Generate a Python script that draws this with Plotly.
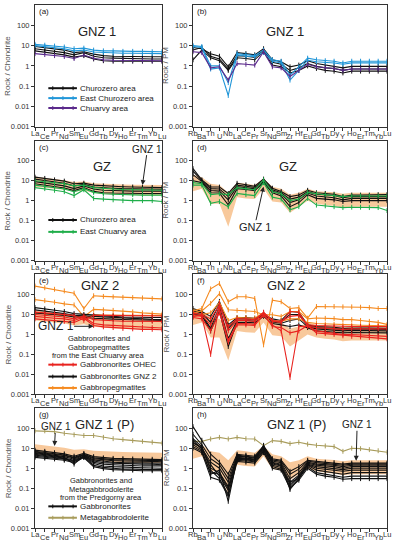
import numpy as np
import plotly.graph_objects as go

FONT = "Liberation Sans, Arial, sans-serif"

# ---------------- categories ----------------
REE = ["La", "Ce", "Pr", "Nd", "Sm", "Eu", "Gd", "Tb", "Dy", "Ho", "Er", "Tm", "Yb", "Lu"]
PM = ["Rb", "Ba", "Th", "U", "Nb", "La", "Ce", "Pr", "Sr", "Nd", "Sm", "Zr", "Hf",
      "Eu", "Gd", "Tb", "Dy", "Y", "Ho", "Er", "Tm", "Yb", "Lu"]
Y_TICKS = [0.001, 0.01, 0.1, 1, 10, 100]
Y_TICKTEXT = ["0.001", "0.01", "0.1", "1", "10", "100"]

# ---------------- GNZ 1 field (shaded band) ----------------
band_ree_upper = [16, 14, 12, 10.5, 8.5, 9, 7.5, 7, 6.8, 6.5, 6.3, 6.2, 6.0, 6.0]
band_ree_lower = [5, 4.5, 4, 3.5, 2.8, 3.2, 2.4, 2.1, 2.0, 1.9, 1.9, 1.8, 1.8, 1.8]
band_pm_upper = [20, 15, 7, 6, 2.5, 8, 7, 6, 13, 5, 4, 2, 2.5, 4, 3, 2.8, 2.6, 2.2, 2.5, 2.5, 2.5, 2.5, 2.5]
band_pm_lower = [3, 4, 0.7, 0.7, 0.05, 1.5, 1.3, 1.2, 4, 0.9, 0.8, 0.25, 0.5, 1.0, 0.7, 0.6, 0.55, 0.45, 0.5, 0.5, 0.5, 0.5, 0.5]

# ---------------- (a) GNZ 1, REE ----------------
a_churozero = [
    [9, 8, 7, 6, 4.5, 5, 3.8, 3.2, 3.0, 2.9, 2.9, 2.9, 2.8, 2.8],
    [7, 6, 5.2, 4.5, 3.5, 4.5, 3, 2.5, 2.4, 2.3, 2.3, 2.3, 2.2, 2.2],
    [5.5, 4.8, 4.2, 3.5, 2.7, 3.2, 2.2, 1.8, 1.7, 1.7, 1.7, 1.7, 1.7, 1.7],
]
a_east_churozero = [
    [11.5, 10.5, 9.5, 8.5, 7, 7.5, 6, 5.5, 5.5, 5.2, 5.2, 5.2, 5.0, 5.0],
    [10, 9, 8, 7, 5.5, 6, 4.8, 4.5, 4.3, 4.2, 4.2, 4.1, 4.0, 4.0],
]
a_chuarvy = [
    [4, 3.6, 3.2, 2.9, 2.3, 3.4, 2.4, 2.0, 1.9, 1.9, 1.9, 1.9, 1.8, 1.8],
]

# ---------------- (b) GNZ 1, PM ----------------
b_churozero = [
    [8, 7, 4.0, 3.0, 0.9, 4.5, 4.0, 3.5, 7.0, 2.0, 1.6, 0.9, 1.1, 1.8, 1.3, 1.1, 1.0, 0.8, 0.95, 0.95, 0.95, 0.95, 0.95],
    [6, 8, 3.0, 2.2, 0.7, 3.2, 3.0, 2.6, 6.0, 1.5, 1.2, 0.6, 0.8, 1.3, 0.95, 0.8, 0.75, 0.6, 0.7, 0.7, 0.7, 0.7, 0.7],
    [2, 6, 2.5, 1.8, 0.6, 2.5, 2.3, 2.0, 5.0, 1.1, 0.9, 0.45, 0.6, 1.0, 0.75, 0.6, 0.55, 0.45, 0.55, 0.55, 0.55, 0.55, 0.55],
]
b_east_churozero = [
    [10, 9, 1.0, 1.0, 0.15, 4.0, 3.6, 3.2, 6.0, 2.0, 1.7, 0.35, 0.9, 2.4, 2.0, 1.8, 1.7, 1.4, 1.7, 1.7, 1.7, 1.7, 1.7],
    [9, 8, 0.7, 0.8, 0.035, 3.5, 3.0, 2.8, 4.5, 1.7, 1.4, 0.2, 0.6, 1.9, 1.6, 1.5, 1.4, 1.2, 1.4, 1.4, 1.4, 1.4, 1.4],
]
b_chuarvy = [
    [5, 4.5, 0.8, 0.9, 0.2, 1.3, 1.2, 1.1, 5.0, 0.9, 0.8, 0.3, 0.6, 1.2, 0.9, 0.8, 0.75, 0.6, 0.7, 0.7, 0.7, 0.7, 0.7],
]

# ---------------- (c) GZ, REE ----------------
c_churozero = [
    [15, 13, 11, 9.5, 7, 7.5, 6, 5.5, 5.2, 5.0, 4.8, 4.6, 4.6, 4.5],
    [12, 10, 8.5, 7.5, 5.5, 6.5, 4.8, 4.3, 4.2, 4.0, 3.9, 3.8, 3.8, 3.7],
    [9, 7.5, 6.5, 5.5, 4, 5.5, 3.8, 3.3, 3.2, 3.0, 3.0, 3.0, 3.0, 3.0],
    [7, 6, 5, 4.3, 3.2, 4.5, 2.9, 2.5, 2.4, 2.3, 2.3, 2.3, 2.3, 2.3],
]
c_east_chuarvy = [
    [10, 9, 8, 7, 5.5, 6, 4.5, 4.0, 3.8, 3.6, 3.5, 3.5, 3.4, 3.3],
    [6, 5.2, 4.5, 3.8, 2.8, 4.0, 2.6, 2.2, 2.1, 2.0, 2.0, 1.9, 1.9, 1.9],
    [4.5, 4, 3.3, 2.8, 1.8, 3.5, 1.3, 1.2, 1.1, 1.0, 1.0, 1.0, 1.0, 0.9],
]

# ---------------- (d) GZ, PM ----------------
d_churozero = [
    [40, 11, 4.8, 4.8, 2.3, 7.4, 6.2, 5.3, 12, 4.2, 2.9, 1.6, 1.9, 3.3, 2.5, 2.3, 2.1, 1.6, 1.9, 1.9, 1.9, 2.0, 2.0],
    [30, 10, 4.0, 3.8, 1.6, 6.0, 5.2, 4.6, 10, 3.5, 2.5, 1.2, 1.5, 2.8, 2.1, 1.9, 1.8, 1.4, 1.6, 1.6, 1.6, 1.6, 1.6],
    [20, 9, 3.2, 3.0, 1.1, 5.0, 4.4, 3.9, 9, 3.0, 2.1, 0.8, 1.1, 2.4, 1.7, 1.5, 1.4, 1.1, 1.3, 1.3, 1.3, 1.3, 1.3],
    [10, 8, 2.5, 2.4, 0.6, 4.0, 3.6, 3.2, 8, 2.5, 1.7, 0.5, 0.8, 2.0, 1.3, 1.2, 1.1, 0.9, 1.0, 1.0, 1.0, 1.0, 1.0],
]
d_east_chuarvy = [
    [8, 7, 2.0, 2.2, 2.0, 4.5, 4.0, 3.5, 11, 2.8, 2.2, 1.0, 1.2, 2.6, 2.2, 2.0, 1.9, 1.6, 1.7, 1.7, 1.7, 1.7, 1.7],
    [6, 6, 0.74, 0.9, 0.5, 2.3, 2.0, 1.8, 8, 1.5, 1.2, 0.35, 0.5, 1.3, 0.6, 0.55, 0.5, 0.45, 0.47, 0.47, 0.45, 0.45, 0.32],
]

# ---------------- (e) GNZ 2, REE ----------------
e_ohec = [
    [13, 12, 11, 10, 9, 5, 9, 9, 8.8, 8.6, 8.5, 8.4, 8.4, 8.3],
    [10, 9, 8, 7.5, 6, 8.5, 5.5, 5, 4.8, 4.6, 4.5, 4.5, 4.5, 4.5],
    [8, 7, 6.5, 6, 5, 7.5, 3.5, 3.0, 2.8, 2.6, 2.4, 2.3, 2.2, 2.1],
    [6, 5.5, 5, 4.5, 4, 6.5, 2.8, 2.4, 2.2, 2.0, 1.9, 1.8, 1.8, 1.7],
]
e_gnz2 = [
    [22, 19, 16, 14, 11, 10, 9, 8.5, 8, 7.5, 7.2, 7, 7, 7],
    [17, 15, 13, 11, 9, 8.5, 7.5, 7, 6.7, 6.3, 6, 5.8, 5.7, 5.6],
    [12, 11, 10, 9, 7.5, 7.5, 6.5, 6, 5.8, 5.6, 5.4, 5.2, 5.1, 5],
]
e_pegmatites = [
    [263, 217, 182, 150, 116, 19.5, 86, 80, 76, 72, 70, 67, 62, 60],
    [55, 49, 41, 34, 30, 7.7, 18, 17, 16, 15, 13.5, 12, 11, 10.4],
    [12, 11, 10, 9.5, 9, 6, 9.5, 9.3, 9.2, 9.1, 9.0, 9.0, 9.0, 8.9],
]

# ---------------- (f) GNZ 2, PM ----------------
f_ohec = [
    [10, 8, 0.1, 35, 1.5, 5, 5, 4.5, 12, 4.5, 4, 14, 13, 2.6, 2.2, 2.1, 2.0, 1.8, 1.9, 1.9, 1.9, 1.9, 1.9],
    [8, 9, 3, 20, 0.5, 3.5, 3.5, 3.2, 9, 3.0, 1.5, 0.007, 2.5, 2.6, 1.5, 1.3, 1.2, 1.0, 1.0, 0.95, 0.9, 0.85, 0.8],
    [12, 10, 6, 30, 2.5, 6, 6, 5.5, 13, 5, 4.5, 8, 9, 3.0, 2.8, 2.7, 2.6, 2.4, 2.5, 2.5, 2.5, 2.5, 2.5],
    [7, 6, 1.5, 12, 0.4, 3, 3, 2.8, 11, 2.5, 2.2, 1.2, 1.5, 2.8, 1.2, 1.1, 1.0, 0.85, 0.8, 0.75, 0.7, 0.65, 0.6],
]
f_gnz2 = [
    [20, 14, 8, 45, 3.0, 7, 7, 6.5, 10, 6, 5, 14, 13, 3, 2.5, 2.4, 2.3, 2.0, 2.1, 2.1, 2.1, 2.0, 2.0],
    [15, 12, 4, 35, 2.0, 6, 6, 5.5, 9, 5, 4.2, 10, 10, 2.7, 2.2, 2.1, 2.0, 1.8, 1.9, 1.9, 1.9, 1.8, 1.8],
    [12, 10, 2, 25, 0.6, 5, 5, 4.6, 11, 4.2, 3.6, 5, 6, 2.4, 1.9, 1.8, 1.7, 1.5, 1.6, 1.6, 1.6, 1.5, 1.5],
    [10, 9, 1.5, 15, 0.25, 4, 4, 3.8, 8, 3.5, 3.0, 2.5, 3, 2.2, 1.5, 1.4, 1.3, 1.2, 1.25, 1.25, 1.2, 1.2, 1.2],
]
f_pegmatites = [
    [15, 20, 190, 350, 43, 77, 77, 63, 0.3, 52, 43, 20, 22, 6.5, 25, 25, 25, 24, 24, 23, 22, 20, 20],
    [12, 15, 36, 110, 17, 16, 15, 14, 9.6, 9.6, 8, 14, 14, 6, 6.6, 6.4, 6.2, 5.5, 5.5, 5, 4.5, 4, 3.2],
    [8, 10, 12, 40, 5, 7, 7, 6.5, 12, 5, 4.5, 6, 6, 4, 3.5, 3.3, 3.2, 3.0, 3.0, 2.9, 2.8, 2.8, 2.7],
]

# ---------------- (g) GNZ 1 (P), REE ----------------
g_gabbronorites = [
    [8, 7, 6, 5.2, 4.0, 5.5, 3.8, 3.3, 3.1, 3.0, 2.9, 2.8, 2.8, 2.7],
    [7, 6.2, 5.4, 4.6, 3.5, 5.0, 3.3, 2.9, 2.7, 2.6, 2.5, 2.5, 2.4, 2.4],
    [6.5, 5.8, 5, 4.3, 3.2, 4.7, 3.0, 2.6, 2.4, 2.3, 2.3, 2.2, 2.2, 2.1],
    [6, 5.2, 4.5, 3.8, 2.8, 4.5, 2.6, 2.2, 2.0, 1.9, 1.9, 1.8, 1.8, 1.8],
    [5.5, 4.8, 4.2, 3.5, 1.6, 4.2, 2.3, 1.9, 1.8, 1.7, 1.6, 1.6, 1.6, 1.5],
    [5, 4.4, 3.8, 3.2, 2.5, 4.0, 2.0, 1.6, 1.5, 1.4, 1.4, 1.3, 1.3, 1.3],
    [4.5, 4, 3.5, 3.0, 2.3, 3.8, 1.7, 1.3, 1.2, 1.1, 1.1, 1.05, 1.0, 1.0],
    [4, 3.6, 3.2, 2.8, 2.1, 3.6, 1.4, 1.1, 1.0, 0.9, 0.9, 0.85, 0.85, 0.85],
    [3.5, 3.2, 2.9, 2.5, 1.9, 3.4, 1.2, 0.95, 0.85, 0.8, 0.8, 0.75, 0.75, 0.75],
]
g_metagabbrodolerite = [
    [74, 74, 68, 56, 47, 43, 43, 35, 30, 27, 24, 22, 20, 18],
]

# ---------------- (h) GNZ 1 (P), PM ----------------
h_gabbronorites = [
    [120, 25, 5, 2, 0.5, 5, 4.5, 4, 13, 3, 2.5, 0.7, 1.2, 2.5, 2.2, 2.0, 1.9, 1.6, 1.8, 1.8, 1.8, 1.8, 1.8],
    [50, 15, 3, 1.5, 0.3, 4.5, 4, 3.5, 12, 2.6, 2.2, 0.5, 0.9, 2.3, 1.9, 1.7, 1.6, 1.4, 1.6, 1.6, 1.6, 1.6, 1.6],
    [30, 12, 1.0, 0.6, 0.12, 4, 3.7, 3.2, 10, 2.3, 1.9, 0.3, 0.6, 2.0, 1.6, 1.5, 1.4, 1.2, 1.4, 1.4, 1.4, 1.4, 1.4],
    [20, 10, 2.0, 1.0, 0.2, 3.5, 3.2, 2.9, 11, 2.0, 1.6, 0.2, 0.45, 1.8, 1.4, 1.3, 1.2, 1.0, 1.2, 1.2, 1.2, 1.2, 1.2],
    [15, 8, 0.5, 0.8, 0.022, 3.2, 3, 2.6, 9, 1.8, 1.4, 0.086, 0.3, 1.6, 1.2, 1.1, 1.0, 0.85, 1.0, 1.0, 1.0, 1.0, 1.0],
    [25, 9, 1.5, 0.4, 0.08, 3.0, 2.8, 2.5, 14, 1.6, 1.3, 0.15, 0.4, 1.5, 1.0, 0.9, 0.8, 0.7, 0.8, 0.8, 0.8, 0.8, 0.8],
    [18, 11, 0.8, 0.3, 0.05, 2.8, 2.6, 2.3, 8, 1.4, 1.1, 0.12, 0.35, 1.4, 0.8, 0.7, 0.6, 0.5, 0.6, 0.6, 0.6, 0.6, 0.6],
    [12, 7, 0.6, 0.5, 0.1, 2.5, 2.3, 2.1, 7, 1.2, 0.9, 0.2, 0.3, 1.2, 0.6, 0.5, 0.45, 0.35, 0.4, 0.4, 0.4, 0.4, 0.4],
    [10, 6, 0.35, 0.25, 0.04, 2.2, 2.0, 1.8, 6, 1.0, 0.8, 0.1, 0.25, 1.0, 0.5, 0.4, 0.35, 0.28, 0.3, 0.3, 0.3, 0.3, 0.3],
]
h_metagabbrodolerite = [
    [22, 22, 29, 35, 29, 35, 30, 29, 13.5, 24, 22, 17, 20, 16, 14, 13, 12, 7, 10, 9.5, 8.5, 7.5, 6.3],
]

# ---------------- colours ----------------
BLACK = "#111111"
BLUE = "#2196d8"
PURPLE = "#5b2a8c"
GREEN = "#1fae4a"
RED = "#e8231f"
ORANGE = "#f58a1f"
OLIVE = "#a89c5c"
BAND = "#f8c99c"

# ---------------- layout geometry ----------------
W, H = 395, 550
COLX = {0: (35, 162), 1: (193, 387)}
ROWY = [(5, 128), (142, 263), (277, 398), (412, 533)]

fig = go.Figure()


def ax_names(k):
    return ("x" if k == 1 else f"x{k}"), ("y" if k == 1 else f"y{k}")


def add_band(k, cats, upper, lower):
    xn, yn = ax_names(k)
    xs = list(range(len(cats)))
    fig.add_trace(go.Scatter(x=xs + xs[::-1], y=list(upper) + list(lower)[::-1],
                             fill="toself", fillcolor=BAND, line=dict(width=0),
                             mode="lines", xaxis=xn, yaxis=yn, showlegend=False,
                             hoverinfo="skip"))


def add_lines(k, cats, series, color, width=1.1):
    xn, yn = ax_names(k)
    xs = list(range(len(cats)))
    for ys in series:
        fig.add_trace(go.Scatter(x=xs, y=ys, mode="lines+markers",
                                 line=dict(color=color, width=width),
                                 marker=dict(symbol="line-ns", size=3.5,
                                             line=dict(color=color, width=1)),
                                 xaxis=xn, yaxis=yn, showlegend=False,
                                 hoverinfo="skip", cliponaxis=False))


add_lines(1, REE, a_churozero, BLACK)
add_lines(1, REE, a_east_churozero, BLUE)
add_lines(1, REE, a_chuarvy, PURPLE)

add_lines(2, PM, b_churozero, BLACK)
add_lines(2, PM, b_east_churozero, BLUE)
add_lines(2, PM, b_chuarvy, PURPLE)

add_band(3, REE, band_ree_upper, band_ree_lower)
add_lines(3, REE, c_churozero, BLACK)
add_lines(3, REE, c_east_chuarvy, GREEN)

add_band(4, PM, band_pm_upper, band_pm_lower)
add_lines(4, PM, d_churozero, BLACK)
add_lines(4, PM, d_east_chuarvy, GREEN)

add_band(5, REE, band_ree_upper, band_ree_lower)
add_lines(5, REE, e_pegmatites, ORANGE)
add_lines(5, REE, e_gnz2, BLACK)
add_lines(5, REE, e_ohec, RED)

add_band(6, PM, band_pm_upper, band_pm_lower)
add_lines(6, PM, f_gnz2, BLACK)
add_lines(6, PM, f_pegmatites, ORANGE)
add_lines(6, PM, f_ohec, RED)

add_band(7, REE, band_ree_upper, band_ree_lower)
add_lines(7, REE, g_metagabbrodolerite, OLIVE)
add_lines(7, REE, g_gabbronorites, BLACK)

add_band(8, PM, band_pm_upper, band_pm_lower)
add_lines(8, PM, h_metagabbrodolerite, OLIVE)
add_lines(8, PM, h_gabbronorites, BLACK)

annotations = []
shapes = []
layout = {}

panel_letters = "abcdefgh"
titles = ["GNZ 1", "GNZ 1", "GZ", "GZ", "GNZ 2", "GNZ 2", "GNZ 1 (P)", "GNZ 1 (P)"]
title_pos = [(0.488, 0.78), (0.474, 0.78), (0.528, 0.785), (0.49, 0.785),
             (0.512, 0.909), (0.479, 0.909), (0.551, 0.868), (0.536, 0.868)]

for k in range(1, 9):
    col = (k - 1) % 2
    row = (k - 1) // 2
    x0, x1 = COLX[col]
    top, bot = ROWY[row]
    cats = REE if col == 0 else PM
    xn, yn = ax_names(k)
    xkey = "xaxis" if k == 1 else f"xaxis{k}"
    ykey = "yaxis" if k == 1 else f"yaxis{k}"
    layout[xkey] = dict(domain=[x0 / W, x1 / W], anchor=yn, range=[0, len(cats) - 1],
                        tickvals=list(range(len(cats))), showticklabels=False,
                        ticks="outside", ticklen=3, tickcolor="#333", tickwidth=1,
                        showline=True, linecolor="#333", linewidth=1, mirror=True,
                        showgrid=False, zeroline=False, fixedrange=True)
    layout[ykey] = dict(domain=[1 - bot / H, 1 - top / H], anchor=xn, type="log",
                        range=[-3, 3], tickvals=Y_TICKS, ticktext=Y_TICKTEXT,
                        ticks="outside", ticklen=3, tickcolor="#333", tickwidth=1,
                        tickfont=dict(size=7.5, color="#333", family=FONT),
                        showline=True, linecolor="#333", linewidth=1, mirror=True,
                        showgrid=False, zeroline=False, fixedrange=True)
    for i, el in enumerate(cats):
        annotations.append(dict(x=i, xref=xn, y=0, yref=f"{yn} domain", text=el,
                                showarrow=False, yanchor="top", xanchor="center",
                                yshift=-1 if i % 2 == 0 else -4, borderpad=0,
                                font=dict(size=7.5, color="#333", family=FONT)))
    annotations.append(dict(x=(x0 - 27) / W, xref="paper", y=0.5, yref=f"{yn} domain",
                            text="Rock / Chondrite" if col == 0 else "Rock / PM",
                            textangle=-90, showarrow=False, xanchor="center",
                            yanchor="middle",
                            font=dict(size=8, color="#555", family=FONT)))
    annotations.append(dict(x=0, xref=f"{xn} domain", y=1, yref=f"{yn} domain",
                            text=f"({panel_letters[k - 1]})", showarrow=False,
                            xanchor="left", yanchor="top", xshift=3, yshift=-1,
                            borderpad=0,
                            font=dict(size=8, color="#222", family=FONT)))
    tx, ty = title_pos[k - 1]
    annotations.append(dict(x=tx, xref=f"{xn} domain", y=ty, yref=f"{yn} domain",
                            text=titles[k - 1], showarrow=False, xanchor="center",
                            yanchor="middle",
                            font=dict(size=13, color="#222", family=FONT)))


def legend_item(k, ypx, color, label, width=2):
    """ypx: vertical pixel position of the legend row (from top of picture)."""
    xn, yn = ax_names(k)
    row = (k - 1) // 2
    top, bot = ROWY[row]
    yfrac = (bot - ypx) / (bot - top)
    shapes.append(dict(type="line", xref=f"{xn} domain", yref=f"{yn} domain",
                       x0=0.105, x1=0.33, y0=yfrac, y1=yfrac,
                       line=dict(color=color, width=width)))
    for fx in (0.14, 0.22, 0.30):
        shapes.append(dict(type="line", xref=f"{xn} domain", yref=f"{yn} domain",
                           x0=fx, x1=fx, y0=yfrac - 0.016, y1=yfrac + 0.016,
                           line=dict(color=color, width=1)))
    annotations.append(dict(x=0.35, xref=f"{xn} domain", y=yfrac, yref=f"{yn} domain",
                            text=label, showarrow=False, xanchor="left", yanchor="middle",
                            borderpad=0,
                            font=dict(size=8, color="#222", family=FONT)))


def text_line(k, xfrac, ypx, label, size=7.5):
    xn, yn = ax_names(k)
    row = (k - 1) // 2
    top, bot = ROWY[row]
    yfrac = (bot - ypx) / (bot - top)
    annotations.append(dict(x=xfrac, xref=f"{xn} domain", y=yfrac, yref=f"{yn} domain",
                            text=label, showarrow=False, xanchor="center", yanchor="middle",
                            borderpad=0,
                            font=dict(size=size, color="#222", family=FONT)))


legend_item(1, 89, BLACK, "Churozero area")
legend_item(1, 99, BLUE, "East Churozero area")
legend_item(1, 109, PURPLE, "Chuarvy area")

legend_item(3, 222, BLACK, "Churozero area")
legend_item(3, 234, GREEN, "East Chuarvy area")

text_line(5, 0.5, 342, "Gabbronorites and")
text_line(5, 0.5, 350.5, "Gabbropegmatites")
text_line(5, 0.5, 359, "from the East Chuarvy area")
legend_item(5, 368, RED, "Gabbronorites OHEC")
legend_item(5, 380, BLACK, "Gabbronorites GNZ 2")
legend_item(5, 391.5, ORANGE, "Gabbropegmatites")

text_line(7, 0.52, 485, "Gabbronorites and")
text_line(7, 0.52, 493.5, "Metagabbrodolerite")
text_line(7, 0.52, 502, "from the Predgorny area")
legend_item(7, 511, BLACK, "Gabbronorites")
legend_item(7, 522.5, OLIVE, "Metagabbrodolerite")

# GNZ 1 arrows: (panel, head x index, head value, tail dx px, tail dy px, font)
arrows = [
    (3, 11, 6.0, 5, -36, 10),
    (4, 8, 5.0, -9, 40, 11),
    (5, 6, 2.55, -38, 0, 12),
    (7, 2, 13.0, 1, -19, 10),
    (8, 18.5, 2.35, 1, -36, 10),
]
for k, xh, yh, axp, ayp, fs in arrows:
    xn, yn = ax_names(k)
    annotations.append(dict(x=xh, xref=xn, y=float(np.log10(yh)), yref=yn,
                            text="GNZ 1", showarrow=True, ax=axp, ay=ayp,
                            arrowhead=2, arrowsize=1, arrowwidth=1, arrowcolor="#222",
                            borderpad=0,
                            font=dict(size=fs, color="#222", family=FONT)))

fig.update_layout(**layout)
fig.update_layout(annotations=annotations, shapes=shapes, width=W, height=H,
                  autosize=False, margin=dict(l=0, r=0, t=0, b=0),
                  paper_bgcolor="white", plot_bgcolor="white", showlegend=False,
                  font=dict(family=FONT))
fig.write_html("out.html", config={"displayModeBar": False},
               post_script="document.body.style.margin='0px';"
                           "document.body.style.overflow='hidden';")
